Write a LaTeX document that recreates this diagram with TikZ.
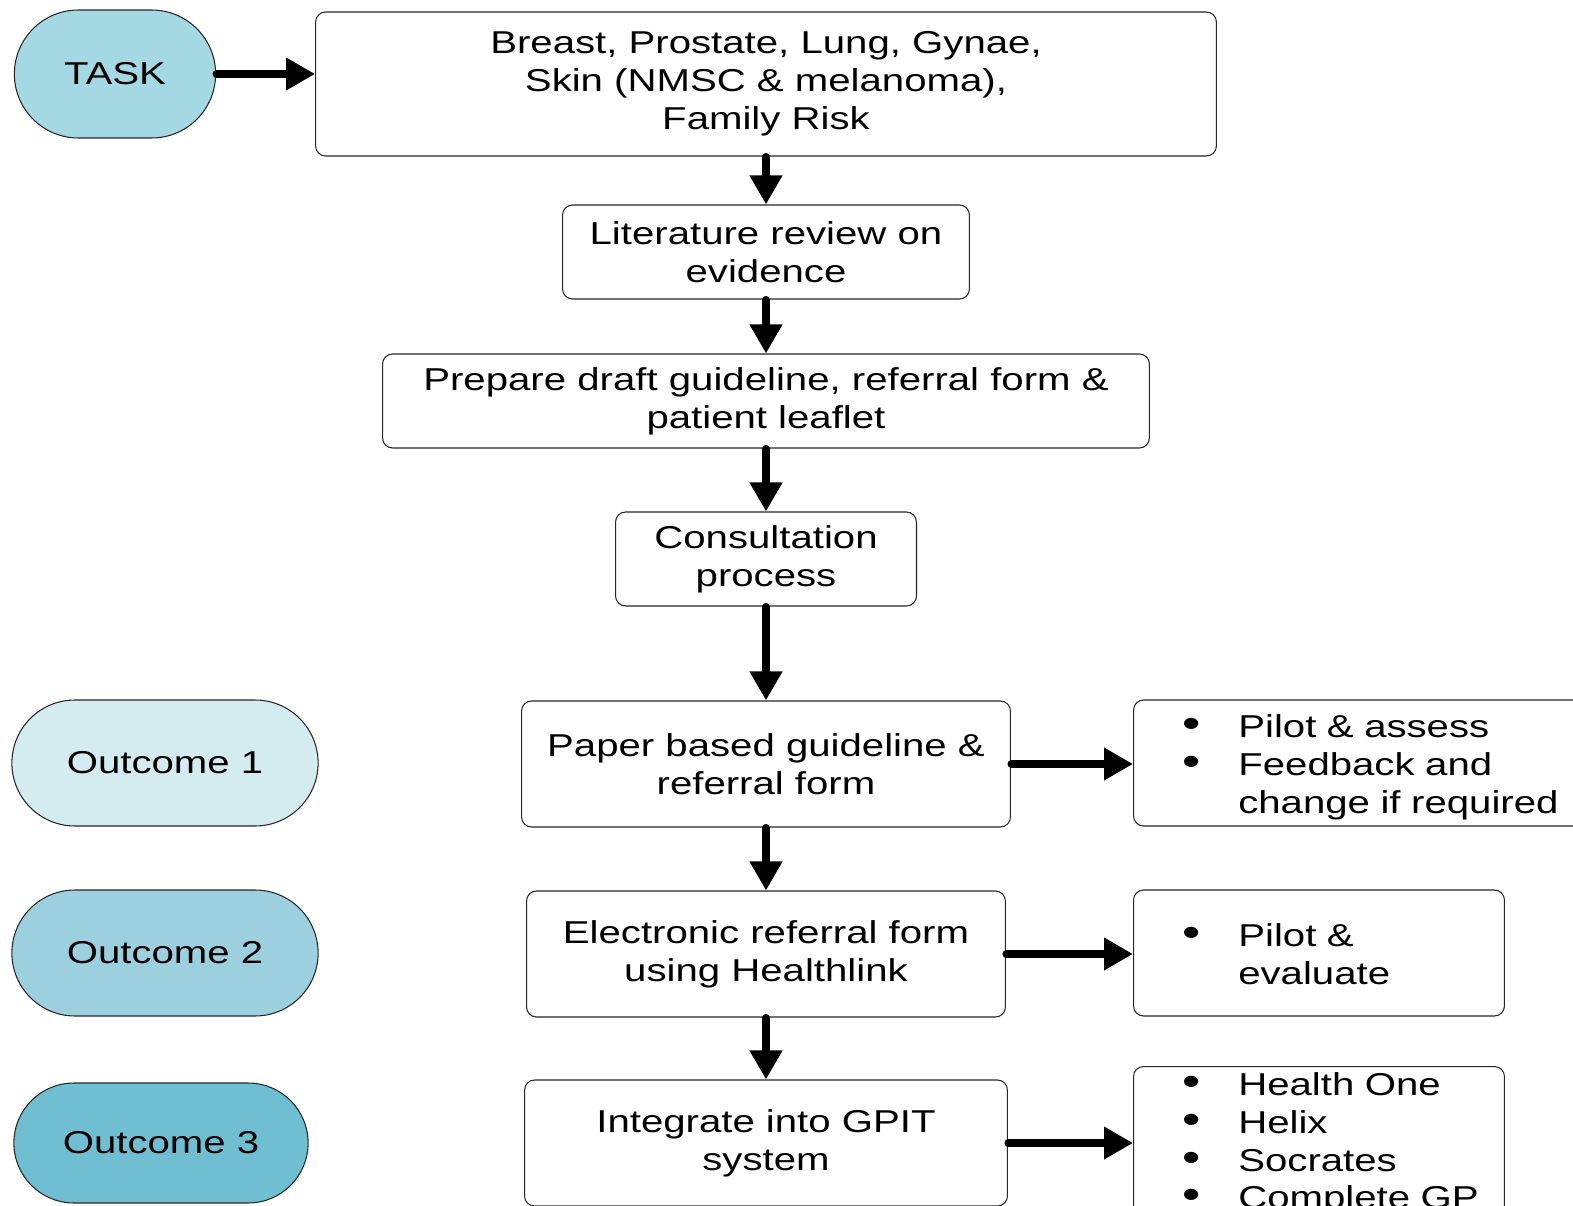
\documentclass[tikz,border=0pt]{standalone}
\usepackage{fontspec}
\setmainfont[FakeStretch=1.27]{Liberation Sans}
\usetikzlibrary{shapes}
\usetikzlibrary{arrows.meta}
\definecolor{taskBlue}{HTML}{A4D8E3}
\definecolor{outOne}{HTML}{D4EBF0}
\definecolor{outTwo}{HTML}{9DD0DE}
\definecolor{outThree}{HTML}{6FBED2}
\newcommand{\Bul}{\scalebox{1.3}{\textbullet}}
\tikzstyle{thinLine}=[line width=.6pt,draw=black!85]
\tikzstyle{Box}=[thinLine,rounded corners=.2cm,align=center,fill=white]
\tikzstyle{Pill}=[thinLine,rounded rectangle,align=center]
\tikzstyle{Bullets}=[Box,align=left,inner xsep=.98cm,inner ysep=0pt,anchor=west]
\tikzstyle{Arrow}=[line width=4pt,line cap=round,-{Triangle[length=.58cm,width=.62cm]}]

\begin{document}
\begin{tikzpicture}[x=.02cm,y=-.02cm,font=\fontsize{18}{21.5}\selectfont]

  \useasboundingbox (0,0) rectangle (1573,1206);

  % Task
  % ----
  \node [Pill,fill=taskBlue,minimum width=4.26cm,minimum height=2.56cm](Task) at (115,74){TASK};
  \node [Box,minimum width=18.02cm,minimum height=2.88cm](Sites) at (766,84){Breast, Prostate, Lung, Gynae,\\Skin (NMSC \& melanoma),\\Family Risk};

  % Steps
  \node [Box,minimum width=8.14cm,minimum height=1.88cm](Review) at (766,252){Literature review on\\evidence};
  \node [Box,minimum width=15.34cm,minimum height=1.88cm](Draft) at (766,401){Prepare draft guideline, referral form \&\\patient leaflet};
  \node [Box,minimum width=6.02cm,minimum height=1.88cm](Consult) at (766,559){Consultation\\process};
  \node [Box,minimum width=9.78cm,minimum height=2.52cm](Paper) at (766,764){Paper based guideline \&\\referral form};
  \node [Box,minimum width=9.58cm,minimum height=2.52cm](Elec) at (766,954){Electronic referral form\\using Healthlink};
  \node [Box,minimum width=9.66cm,minimum height=2.52cm](GPIT) at (766,1143){Integrate into GPIT\\system};

  % Outcomes
  \node [Pill,fill=outOne,minimum width=6.36cm,minimum height=2.52cm](OutA) at (165,763){Outcome 1};
  \node [Pill,fill=outTwo,minimum width=6.36cm,minimum height=2.52cm](OutB) at (165,953){Outcome 2};
  \node [Pill,fill=outThree,minimum width=6.12cm,minimum height=2.4cm](OutC) at (161,1143){Outcome 3};

  % Follow up
  \node [Bullets,text width=7.64cm,minimum height=2.52cm](PilotA) at (1133,763){%
    \begin{tabular}{@{}l@{\hspace{.75cm}}l@{}}
      \Bul\rule{0pt}{.73cm} & Pilot \& assess\\
      \Bul & Feedback and\\
           & change if required
    \end{tabular}};
  \node [Bullets,text width=5.46cm,minimum height=2.52cm](PilotB) at (1133,953){%
    \begin{tabular}{@{}l@{\hspace{.75cm}}l@{}}
      \Bul\rule{0pt}{.73cm} & Pilot \&\\
           & evaluate
    \end{tabular}};
  \node [Bullets,anchor=north west,text width=5.46cm,minimum height=3cm](Systems) at (1133,1066){%
    \begin{tabular}{@{}l@{\hspace{.75cm}}l@{}}
      \Bul\rule{0pt}{.58cm} & Health One\\
      \Bul & Helix\\
      \Bul & Socrates\\
      \Bul & Complete GP
    \end{tabular}};

  % Arrows
  \draw [Arrow](Task.east)--(Task.east -| Sites.west);
  \draw [Arrow](Sites.south)--(Review.north);
  \draw [Arrow](Review.south)--(Draft.north);
  \draw [Arrow](Draft.south)--(Consult.north);
  \draw [Arrow](Consult.south)--(Paper.north);
  \draw [Arrow](Paper.south)--(Elec.north);
  \draw [Arrow](Elec.south)--(GPIT.north);
  \draw [Arrow](Paper.east)--(Paper.east -| PilotA.west);
  \draw [Arrow](Elec.east)--(Elec.east -| PilotB.west);
  \draw [Arrow](GPIT.east)--(GPIT.east -| Systems.west);

\end{tikzpicture}
\end{document}
